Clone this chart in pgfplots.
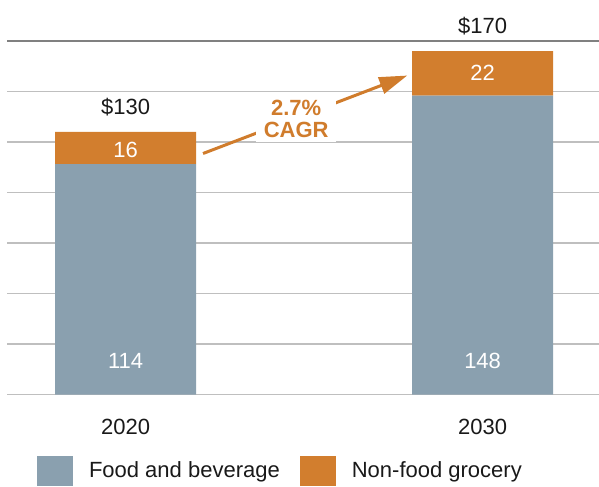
\documentclass[border=0pt]{standalone}
\usepackage{pgfplots}
\pgfplotsset{compat=1.18}
\usepackage{fontspec}
\setmainfont{Liberation Sans}
\usetikzlibrary{arrows.meta}
\definecolor{fb}{RGB}{138,160,175}
\definecolor{nf}{RGB}{210,126,46}
\definecolor{cagr}{RGB}{208,124,44}
\definecolor{txt}{RGB}{25,25,25}
\begin{document}
\begin{tikzpicture}
\begin{axis}[
  name=ax,
  scale only axis,
  width=592pt, height=353.5pt,
  xmin=-0.332, xmax=1.326,
  ymin=0, ymax=175,
  clip=false,
  ybar stacked, bar width=141pt,
  axis line style={draw=none},
  tick style={draw=none},
  xtick={0,1}, xticklabels={2020,2030},
  xticklabel style={anchor=north, inner sep=0pt, yshift=-24pt, text=txt},
  ytick={0,25,...,150},
  yticklabels={},
  extra y ticks={175}, extra y tick labels={},
  extra y tick style={grid style={color=black!50, line width=1.2pt}},
  ymajorgrids,
  grid style={color=black!25, line width=1.2pt},
  font=\fontsize{22}{26}\selectfont,
  legend columns=2,
  legend style={draw=none, fill=none, inner sep=0pt, outer sep=0pt,
    at={(0.0507,-0.215)}, anchor=west, text=txt,
    nodes={inner sep=0pt},
    /tikz/every odd column/.append style={column sep=16pt},
    /tikz/every even column/.append style={column sep=20pt}},
  legend image code/.code={\fill[#1] (0pt,-15pt) rectangle (36pt,15pt);},
  after end axis/.code={
    \draw[cagr, line width=3pt, -{Triangle[length=28pt,width=17pt]}] (axis cs:0.217,119.3) -- (axis cs:0.789,157.9);
    \node[fill=white, text=cagr, font=\bfseries\fontsize{22}{22}\selectfont, align=center, inner xsep=7.5pt, inner ysep=5pt] at (axis cs:0.478,136.6) {2.7\%\\CAGR};
    \node[text=white, anchor=base] at (axis cs:0,117.3) {16};
    \node[text=white, anchor=base] at (axis cs:1,155.4) {22};
    \node[text=white, anchor=base] at (axis cs:0,12.9) {114};
    \node[text=white, anchor=base] at (axis cs:1,12.9) {148};
    \node[text=txt, anchor=base] at (axis cs:0,138.6) {\$130};
    \node[text=txt, anchor=base] at (axis cs:1,178.7) {\$170};
  },
]
\addplot[fill=fb, draw=none] coordinates {(0,114) (1,148)};
\addplot[fill=nf, draw=none] coordinates {(0,16) (1,22)};
\legend{Food and beverage, Non-food grocery}
\end{axis}
\pgfresetboundingbox
\path[use as bounding box] ([shift={(-7pt,-92pt)}]ax.south west) rectangle ([shift={(0pt,41pt)}]ax.north east);
\end{tikzpicture}
\end{document}
